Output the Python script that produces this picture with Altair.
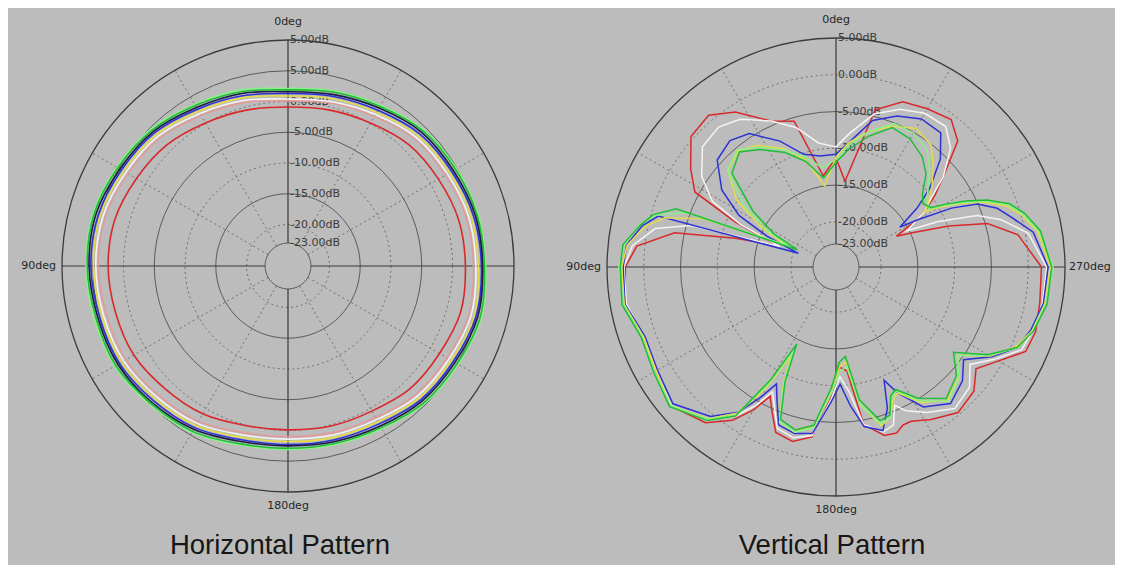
import altair as alt
import pandas as pd

# ---------------- Horizontal pattern (dB, every 15 deg) ----------------
H_ANGLES = list(range(0, 360, 15))
h_red = [-0.9, -0.5, 0.1, 1.1, 1.7, 2.4, 2.5, 2.3, 2.2, 1.5, 1.0, 0.1, -0.1, 0.2, 0.5, 1.4, 1.7, 2.3, 2.1, 2.0, 1.5, 1.1, 0.1, -0.5]
h_pink = [0.1, 0.8, 1.5, 2.7, 3.3, 4.0, 4.1, 3.8, 3.7, 3.0, 2.4, 1.3, 1.0, 1.3, 1.7, 2.7, 3.1, 3.7, 3.4, 3.3, 2.8, 2.4, 1.3, 0.7]
h_white = [0.4, 1.1, 1.9, 3.1, 3.7, 4.4, 4.5, 4.3, 4.1, 3.4, 2.8, 1.7, 1.4, 1.7, 2.1, 3.1, 3.5, 4.1, 3.8, 3.7, 3.2, 2.8, 1.7, 0.9]
h_yellow = [0.9, 1.6, 2.3, 3.5, 4.1, 4.9, 4.9, 4.6, 4.5, 3.8, 3.2, 2.1, 1.8, 2.1, 2.5, 3.5, 3.9, 4.6, 4.2, 4.1, 3.6, 3.2, 2.1, 1.4]
h_blue = [1.3, 1.9, 2.7, 3.9, 4.5, 5.2, 5.3, 5.0, 4.9, 4.2, 3.6, 2.5, 2.3, 2.5, 2.9, 3.9, 4.3, 4.9, 4.7, 4.5, 4.0, 3.6, 2.5, 1.8]
h_navy = [1.6, 2.3, 3.0, 4.2, 4.8, 5.6, 5.6, 5.3, 5.2, 4.6, 3.9, 2.8, 2.5, 2.8, 3.3, 4.2, 4.6, 5.2, 4.9, 4.8, 4.3, 4.0, 2.9, 2.1]
h_green = [1.9, 2.6, 3.4, 4.5, 5.2, 5.9, 5.9, 5.6, 5.6, 4.8, 4.3, 3.2, 2.9, 3.1, 3.6, 4.6, 5.0, 5.6, 5.2, 5.1, 4.7, 4.3, 3.2, 2.5]
h_lime = [2.1, 2.9, 3.6, 4.8, 5.4, 6.1, 6.1, 5.9, 5.8, 5.1, 4.5, 3.4, 3.1, 3.3, 3.8, 4.8, 5.2, 5.8, 5.4, 5.3, 4.9, 4.5, 3.4, 2.7]
H_DATA = {"red": h_red, "pink": h_pink, "white": h_white, "yellow": h_yellow,
          "blue": h_blue, "navy": h_navy, "lime": h_lime, "green": h_green}

# ---------------- Vertical pattern (dB) ----------------
V_ANGLES = [0, 8, 16, 24, 33, 40, 48, 56, 62, 66, 70, 74, 78, 84, 90, 100, 110, 120, 130, 140,
            146, 150, 153, 156, 160, 166, 172, 178, 182, 186, 190, 196, 200, 203, 206, 212, 220,
            228, 234, 240, 246, 252, 260, 270, 280, 286, 290, 294, 297, 300, 302, 306, 310, 316,
            322, 330, 338, 346, 354]
v_red = [-11.3, -13.6, -5.5, -4.4, -1.0, 0.8, 0.4, -2.3,
         -4.4, -11.2, -17.7, -11.9, -3.7, 1.1, 2.5,
         3.0, 2.0, 2.4, 3.2, 1.5,
         -1.0, -3.7, -6.4, -4.7, -2.2,
         -1.7, -2.8, -8.5, -12.5, -11.9,
         -4.4, -2.3, -2.1, -2.8, -2.8,
         -1.7, -0.3, -0.9, -2.6, -0.6,
         2.1, 2.4, 2.0, 1.8, -1.0,
         -4.7, -9.8, -14.6, -16.9, -13.6,
         -11.9, -9.5, -7.1, -2.3, -0.7,
         -1.3, -1.9, -4.1, -14.4]
v_white = [-9.8, -9.1, -6.4, -4.4, -2.2, -1.3, -1.7, -4.1,
           -7.1, -11.9, -18.0, -5.7, -1.0, 1.7, 2.7,
           2.8, 1.7, 2.1, 3.1, 1.1,
           -1.7, -4.4, -7.1, -5.5, -2.8,
           -2.2, -3.0, -8.2, -11.2, -9.1,
           -4.4, -2.8, -3.3, -5.7, -4.4,
           -2.8, -1.0, -1.7, -3.6, -1.1,
           1.5, 2.0, 2.4, 2.5, 0.4,
           -2.8, -5.7, -10.9, -15.3, -13.6,
           -11.9, -10.1, -7.1, -3.7, -1.9,
           -2.0, -3.0, -4.7, -7.8]
v_blue = [-10.8, -10.9, -10.2, -7.4, -4.5, -3.7, -4.4, -7.4,
          -11.2, -15.9, -20.7, -1.0, 0.8, 2.5, 2.8,
          3.0, 1.5, 1.9, 2.8, 0.4,
          -2.3, -5.7, -8.3, -6.4, -3.3,
          -2.8, -3.3, -7.8, -10.2, -7.1,
          -4.1, -3.0, -5.7, -9.4, -7.1,
          -3.7, -1.9, -3.0, -4.7, -1.7,
          0.8, 1.7, 2.5, 2.7, 1.1,
          -1.4, -2.8, -5.1, -8.5, -13.2,
          -15.9, -12.5, -9.5, -5.7, -3.0,
          -2.9, -4.0, -5.6, -9.1]
v_yellow = [-11.2, -15.0, -10.9, -8.5, -6.4, -5.5, -6.4, -9.8,
            -14.6, -18.7, -7.0, -1.9, 0.4, 2.4, 3.0,
            3.1, 1.7, 2.1, 3.2, 0.8,
            -2.2, -7.1, -12.5, -8.5, -3.7,
            -3.0, -4.4, -9.1, -12.5, -13.2,
            -7.1, -3.7, -4.4, -6.4, -7.1,
            -4.4, -2.5, -3.7, -5.7, -1.9,
            0.6, 1.9, 2.7, 3.0, 1.7,
            0.0, -1.7, -4.4, -7.1, -9.8,
            -11.9, -10.5, -9.1, -7.1, -5.1,
            -4.4, -5.5, -7.1, -9.1]
v_lime = [-11.5, -12.5, -10.5, -8.7, -6.7, -5.3, -6.3, -10.9,
          -15.5, -19.3, -4.5, -0.6, 1.3, 2.8, 3.4,
          3.2, 1.9, 2.4, 3.2, 0.9,
          -1.9, -7.8, -13.2, -8.7, -3.7,
          -3.0, -4.0, -9.0, -11.9, -12.5,
          -7.1, -4.0, -4.4, -6.8, -7.4,
          -4.7, -2.3, -3.6, -5.7, -2.1,
          0.9, 2.0, 2.8, 3.4, 1.9,
          0.2, -1.3, -4.1, -6.8, -9.5,
          -11.2, -10.9, -9.8, -7.8, -6.0,
          -5.1, -5.1, -7.1, -9.5]
v_green = [-11.9, -13.9, -11.2, -9.1, -7.1, -5.7, -7.1, -12.5,
           -16.6, -20.4, -3.0, -0.3, 1.1, 3.0, 3.2,
           3.4, 2.0, 2.5, 3.4, 1.1,
           -1.7, -8.5, -14.4, -9.1, -4.1,
           -3.3, -4.4, -9.8, -13.2, -13.9,
           -7.8, -4.4, -4.7, -7.1, -7.6,
           -5.1, -2.8, -4.1, -6.4, -2.3,
           0.8, 2.1, 3.0, 3.2, 2.1,
           0.5, -1.0, -3.7, -6.4, -9.1,
           -10.9, -11.5, -10.8, -8.5, -7.1,
           -6.0, -5.7, -7.8, -10.1]
V_DATA = {"red": v_red, "white": v_white, "blue": v_blue, "yellow": v_yellow,
          "lime": v_lime, "green": v_green}

# ---------------- grid labels ----------------
H_RING_DB = [10, 5, 0, -5, -10, -15, -20, -23]
H_RING_TEXT = ["5.00dB", "5.00dB", "0.00dB", "-5.00dB", "-10.00dB", "-15.00dB", "-20.00dB", "-23.00dB"]
V_RING_DB = [5, 0, -5, -10, -15, -20, -23]
V_RING_TEXT = ["5.00dB", "0.00dB", "-5.00dB", "-10.00dB", "-15.00dB", "-20.00dB", "-23.00dB"]
SPOKE_ANGLES = list(range(0, 360, 30))
H_DEG_ANGLES = [0, 90, 180]
H_DEG_TEXT = ["0deg", "90deg", "180deg"]
V_DEG_ANGLES = [0, 90, 180, 270]
V_DEG_TEXT = ["0deg", "90deg", "180deg", "270deg"]
TITLES = ["Horizontal Pattern", "Vertical Pattern"]

SERIES_DOMAIN = ["red", "pink", "white", "yellow", "blue", "navy", "lime", "green"]
SERIES_COLORS = ["#d9282b", "#e49a9a", "#f4f4f4", "#e4dc48", "#2c32d4", "#1c1c44", "#8cf088", "#1fbf35"]

W, H = 1107, 557
XS = alt.Scale(domain=[8, 8 + W], nice=False, zero=False)
YS = alt.Scale(domain=[8, 8 + H], nice=False, zero=False, reverse=True)


def X(f):
    return alt.X(f, type="quantitative", scale=XS, axis=None)


def Y(f):
    return alt.Y(f, type="quantitative", scale=YS, axis=None)


def long_df(angles, data):
    rows = []
    for name, vals in data.items():
        for a, v in zip(angles, vals):
            rows.append({"series": name, "ang": a, "db": v})
    return pd.DataFrame(rows)


def polar_plot(cx, cy, R, hole, dbmax, lines, ring_db, ring_text, deg_angles, deg_text, title, interp, lw, title_dx):
    k = (R - hole) / (dbmax + 23.0)
    rexp = f"{hole} + (datum.db + 23) * {k}"
    layers = []

    rings = alt.Chart(pd.DataFrame({"db": ring_db, "label": ring_text})).transform_calculate(
        r=rexp
    ).transform_calculate(
        cx=f"{cx}", cy=f"{cy}", s="pow(2 * datum.r, 2)", ly=f"{cy} - datum.r", lx=f"{cx} + 2"
    )
    dotted = "(datum.db % 10 == 0 && datum.db <= 0)"
    layers.append(rings.transform_filter(f"!{dotted} && datum.db != {dbmax}").mark_point(
        shape="circle", filled=False, opacity=1, color="#5c5c5c", strokeWidth=1
    ).encode(x=X("cx"), y=Y("cy"), size=alt.Size("s:Q", scale=None)))
    layers.append(rings.transform_filter(dotted).mark_point(
        shape="circle", filled=False, opacity=1, color="#6c6c6c", strokeWidth=1, strokeDash=[2, 3]
    ).encode(x=X("cx"), y=Y("cy"), size=alt.Size("s:Q", scale=None)))
    layers.append(rings.transform_filter(f"datum.db == {dbmax}").mark_point(
        shape="circle", filled=False, opacity=1, color="#3c3c3c", strokeWidth=1.3
    ).encode(x=X("cx"), y=Y("cy"), size=alt.Size("s:Q", scale=None)))

    spokes = alt.Chart(pd.DataFrame({"ang": SPOKE_ANGLES})).transform_calculate(
        x1=f"{cx} - {hole} * sin(datum.ang * PI / 180)",
        y1=f"{cy} - {hole} * cos(datum.ang * PI / 180)",
        x2=f"{cx} - {R} * sin(datum.ang * PI / 180)",
        y2=f"{cy} - {R} * cos(datum.ang * PI / 180)",
    )
    layers.append(spokes.transform_filter("datum.ang % 90 != 0").mark_rule(
        color="#707070", strokeWidth=1, strokeDash=[2, 3]
    ).encode(x=X("x1"), y=Y("y1"), x2="x2:Q", y2="y2:Q"))
    layers.append(spokes.transform_filter("datum.ang % 90 == 0").mark_rule(
        color="#383838", strokeWidth=1.2
    ).encode(x=X("x1"), y=Y("y1"), x2="x2:Q", y2="y2:Q"))

    layers.append(rings.mark_text(
        align="left", baseline="middle", font="DejaVu Sans", fontSize=11, color="#3a3a3a"
    ).encode(x=X("lx"), y=Y("ly"), text="label:N"))

    layers.append(alt.Chart(lines).transform_calculate(r=rexp).transform_calculate(
        x=f"{cx} - datum.r * sin(datum.ang * PI / 180)",
        y=f"{cy} - datum.r * cos(datum.ang * PI / 180)",
    ).mark_line(interpolate=interp, strokeWidth=lw).encode(
        x=X("x"), y=Y("y"),
        color=alt.Color("series:N", scale=alt.Scale(domain=SERIES_DOMAIN, range=SERIES_COLORS), legend=None),
        order=alt.Order("ang:Q"),
    ))

    deg = alt.Chart(pd.DataFrame({"ang": deg_angles, "label": deg_text}))
    dstyle = dict(font="DejaVu Sans", fontSize=11, color="#262626")
    layers.append(deg.transform_filter("datum.ang == 0").transform_calculate(
        x=f"{cx}", y=f"{cy} - {R} - 18").mark_text(align="center", baseline="middle", **dstyle
    ).encode(x=X("x"), y=Y("y"), text="label:N"))
    layers.append(deg.transform_filter("datum.ang == 180").transform_calculate(
        x=f"{cx}", y=f"{cy} + {R} + 14").mark_text(align="center", baseline="middle", **dstyle
    ).encode(x=X("x"), y=Y("y"), text="label:N"))
    layers.append(deg.transform_filter("datum.ang == 90").transform_calculate(
        x=f"{cx} - {R} - 6", y=f"{cy}").mark_text(align="right", baseline="middle", **dstyle
    ).encode(x=X("x"), y=Y("y"), text="label:N"))
    layers.append(deg.transform_filter("datum.ang == 270").transform_calculate(
        x=f"{cx} + {R} + 4", y=f"{cy}").mark_text(align="left", baseline="middle", **dstyle
    ).encode(x=X("x"), y=Y("y"), text="label:N"))

    layers.append(alt.Chart(pd.DataFrame({"label": [title]})).transform_calculate(
        x=f"{cx} + {title_dx}", y="546").mark_text(
        align="center", baseline="middle", font="Liberation Sans", fontSize=27.5, color="#161616"
    ).encode(x=X("x"), y=Y("y"), text="label:N"))
    return layers


left = polar_plot(288, 266, 226, 23, 10, long_df(H_ANGLES, H_DATA), H_RING_DB, H_RING_TEXT,
                  H_DEG_ANGLES, H_DEG_TEXT, TITLES[0], "cardinal-closed", 1.6, -8)
right = polar_plot(836, 267, 229, 23, 5, long_df(V_ANGLES, V_DATA), V_RING_DB, V_RING_TEXT,
                   V_DEG_ANGLES, V_DEG_TEXT, TITLES[1], "linear-closed", 1.5, -4)

chart = alt.layer(*left, *right).properties(
    width=W, height=H, background="#bcbcbc", padding=0,
    autosize=alt.AutoSizeParams(type="none"),
).configure_view(stroke=None)

chart.save("out.html", embed_options={"renderer": "svg", "actions": False})
